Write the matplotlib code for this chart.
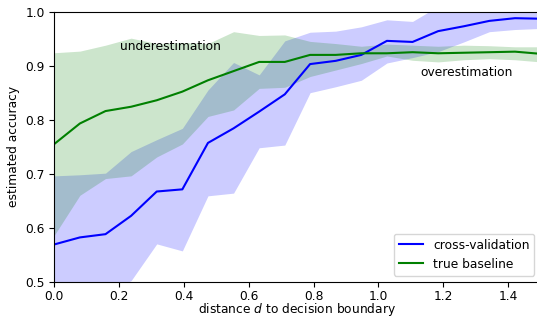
import matplotlib
matplotlib.use("Agg")
import matplotlib.pyplot as plt
import numpy as np

# distance to decision boundary (20 evaluation points)
distance = [0.000, 0.079, 0.158, 0.237, 0.316, 0.395, 0.474, 0.553, 0.632, 0.711,
            0.789, 0.868, 0.947, 1.026, 1.105, 1.184, 1.263, 1.342, 1.421, 1.500]

# cross-validation estimate and its band
cv_mean = [0.569, 0.582, 0.588, 0.622, 0.667, 0.671, 0.757, 0.784, 0.815, 0.847,
           0.903, 0.909, 0.920, 0.946, 0.944, 0.964, 0.973, 0.983, 0.988, 0.987]
cv_low = [0.46, 0.47, 0.48, 0.502, 0.570, 0.557, 0.659, 0.664, 0.748, 0.753,
          0.850, 0.861, 0.873, 0.905, 0.915, 0.926, 0.944, 0.963, 0.967, 0.969]
cv_high = [0.696, 0.698, 0.701, 0.741, 0.763, 0.784, 0.855, 0.906, 0.883, 0.946,
           0.962, 0.964, 0.972, 0.985, 0.982, 1.01, 1.02, 1.02, 1.02, 1.02]

# true baseline and its band
tb_mean = [0.755, 0.793, 0.816, 0.824, 0.836, 0.852, 0.873, 0.890, 0.907, 0.907,
           0.920, 0.920, 0.923, 0.923, 0.925, 0.923, 0.924, 0.925, 0.926, 0.922]
tb_low = [0.586, 0.660, 0.691, 0.696, 0.731, 0.755, 0.806, 0.818, 0.858, 0.860,
          0.880, 0.892, 0.904, 0.918, 0.910, 0.907, 0.911, 0.913, 0.911, 0.907]
tb_high = [0.924, 0.927, 0.938, 0.951, 0.941, 0.943, 0.941, 0.963, 0.956, 0.957,
           0.945, 0.941, 0.936, 0.940, 0.938, 0.936, 0.938, 0.937, 0.935, 0.935]

plt.rcParams['font.size'] = 8.8

fig = plt.figure(figsize=(5.37, 3.18), dpi=100)
ax = fig.add_axes([0.1011, 0.1142, 0.9056, 0.849])

ax.fill_between(distance, cv_low, cv_high, color='blue', alpha=0.2, linewidth=0)
ax.fill_between(distance, tb_low, tb_high, color='green', alpha=0.2, linewidth=0)
ax.plot(distance, cv_mean, color='blue', label='cross-validation')
ax.plot(distance, tb_mean, color='green', label='true baseline')

ax.text(0.357, 0.935, 'underestimation', ha='center', va='center')
ax.text(1.272, 0.888, 'overestimation', ha='center', va='center')

ax.set_xlim(0, 1.5)
ax.set_ylim(0.5, 1.0)
ax.tick_params(axis='x', pad=2.5)
ax.set_xlabel('distance $d$ to decision boundary')
ax.xaxis.set_label_coords(0.5, -0.073)
ax.set_ylabel('estimated accuracy')
ax.legend(loc='lower right')

fig.savefig('out.png', dpi=100)
